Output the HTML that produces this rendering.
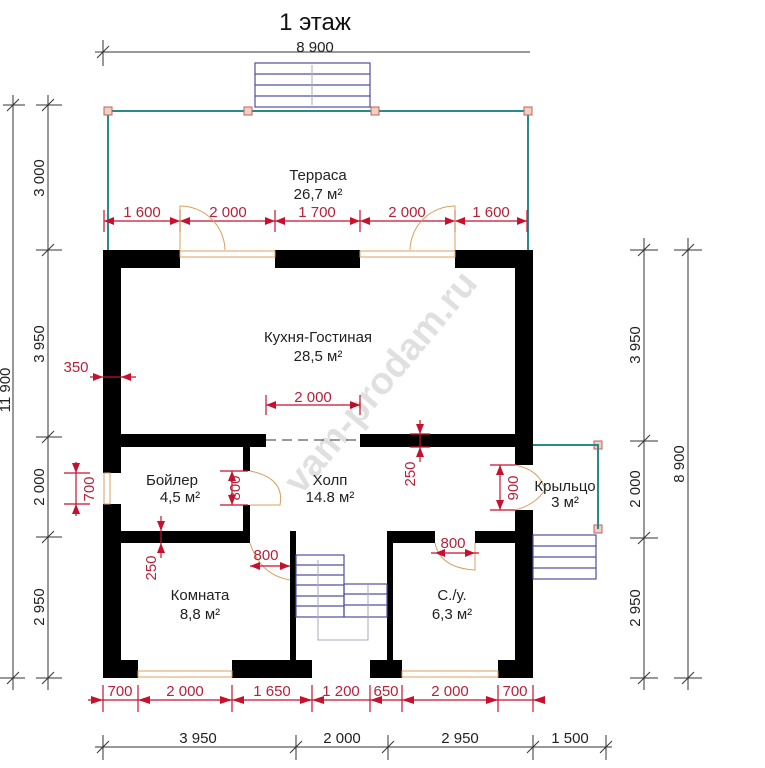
<!DOCTYPE html>
<html><head><meta charset="utf-8"><style>
html,body{margin:0;padding:0;background:#fff;}
svg{display:block;font-family:"Liberation Sans",sans-serif;}
.d{stroke:#333;stroke-width:1;fill:none}
.r{stroke:#c8102e;stroke-width:1.2;fill:none}
.rt{fill:#b5223a;font-size:15px}
.bt{fill:#222;font-size:15px}
.w{fill:#000}
.t{stroke:#2a8a8a;stroke-width:2;fill:none}
.win{fill:#fff;stroke:#d8a060;stroke-width:1}
.st{stroke:#5050a0;stroke-width:1.2;fill:none}
</style></head><body>
<svg width="765" height="768" viewBox="0 0 765 768" xmlns="http://www.w3.org/2000/svg">
<defs>
<marker id="a" markerWidth="8" markerHeight="6" refX="8" refY="3" orient="auto"><path d="M0,0L8,3L0,6z" fill="#c8102e"/></marker>
</defs>
<text x="315" y="30" font-size="24" text-anchor="middle" fill="#111">1 этаж</text>
<text x="315" y="52" class="bt" text-anchor="middle">8 900</text>
<line class="d" x1="95" y1="52" x2="530" y2="52"/>
<line class="d" x1="103" y1="40" x2="103" y2="66"/><line class="d" x1="97" y1="58" x2="109" y2="46"/>
<!-- terrace stairs -->
<rect class="st" x="255" y="63" width="115" height="44"/>
<line class="st" x1="255" y1="74" x2="370" y2="74"/><line class="st" x1="255" y1="85" x2="370" y2="85"/><line class="st" x1="255" y1="96" x2="370" y2="96"/>
<line x1="312" y1="65" x2="312" y2="105" stroke="#aab" stroke-width="1"/>
<!-- terrace -->
<polyline class="t" points="108,250 108,111 528,111 528,250"/>
<g fill="#f0d0c0" stroke="#c06060"><rect x="104" y="107" width="8" height="8"/><rect x="244" y="107" width="8" height="8"/><rect x="371" y="107" width="8" height="8"/><rect x="524" y="107" width="8" height="8"/>
<rect x="594" y="441" width="8" height="8"/><rect x="594" y="525" width="8" height="8"/></g>
<text x="318" y="180" class="bt" text-anchor="middle">Терраса</text>
<text x="318" y="199" class="bt" text-anchor="middle">26,7 м²</text>
<!-- terrace dims -->
<line class="r" x1="104" y1="221" x2="527" y2="221"/>
<g class="r"><line x1="104" y1="210" x2="104" y2="232"/><line x1="180" y1="210" x2="180" y2="232"/><line x1="275" y1="210" x2="275" y2="232"/><line x1="360" y1="210" x2="360" y2="232"/><line x1="455" y1="210" x2="455" y2="232"/><line x1="527" y1="210" x2="527" y2="232"/></g>
<g fill="#c8102e"><path d="M104,221l10,-4v8z"/><path d="M180,221l-10,-4v8z"/><path d="M180,221l10,-4v8z"/><path d="M275,221l-10,-4v8z"/><path d="M275,221l10,-4v8z"/><path d="M360,221l-10,-4v8z"/><path d="M360,221l10,-4v8z"/><path d="M455,221l-10,-4v8z"/><path d="M455,221l10,-4v8z"/><path d="M527,221l-10,-4v8z"/></g>
<g class="rt" text-anchor="middle"><text x="142" y="217">1 600</text><text x="228" y="217">2 000</text><text x="317" y="217">1 700</text><text x="407" y="217">2 000</text><text x="491" y="217">1 600</text></g>
<!-- doors to terrace -->
<path d="M180,250 L180,206 A45,45 0 0 1 225,250" fill="none" stroke="#d8a060"/>
<path d="M455,250 L455,206 A45,45 0 0 0 410,250" fill="none" stroke="#d8a060"/>
<!-- walls -->
<g class="w">
<rect x="103" y="250" width="77" height="18"/><rect x="275" y="250" width="85" height="18"/><rect x="455" y="250" width="78" height="18"/>
<rect x="103" y="250" width="18" height="223"/><rect x="103" y="504" width="18" height="174"/>
<rect x="515" y="250" width="18" height="215"/><rect x="515" y="510" width="18" height="168"/>
<rect x="103" y="660" width="35" height="18"/><rect x="232" y="660" width="80" height="18"/><rect x="370" y="660" width="32" height="18"/><rect x="498" y="660" width="35" height="18"/>
<rect x="121" y="434" width="145" height="13"/><rect x="360" y="434" width="155" height="13"/>
<rect x="243" y="447" width="7" height="24"/><rect x="243" y="505" width="7" height="38"/>
<rect x="121" y="531" width="129" height="12"/>
<rect x="290" y="531" width="6" height="129"/>
<rect x="387" y="531" width="6" height="129"/><rect x="387" y="531" width="48" height="12"/><rect x="475" y="531" width="40" height="12"/>
</g>
<!-- windows -->
<rect class="win" x="180" y="251" width="95" height="6"/><rect class="win" x="360" y="251" width="95" height="6"/>
<rect class="win" x="138" y="671" width="94" height="6"/><rect class="win" x="402" y="671" width="96" height="6"/>
<rect class="win" x="104" y="473" width="6" height="31"/>
<line x1="266" y1="440" x2="360" y2="440" stroke="#333" stroke-dasharray="10,6"/>
<!-- door arcs -->
<path d="M250,471 Q285,478 280,505 L250,505" fill="none" stroke="#d8a060"/>
<path d="M515,465 Q540,470 545,490 Q535,505 515,510" fill="none" stroke="#d8a060"/>
<path d="M250,543 Q260,575 290,580" fill="none" stroke="#d8a060"/>
<path d="M435,543 Q440,568 475,570 L475,543" fill="none" stroke="#d8a060"/>
<!-- inner stairs -->
<g class="st"><rect x="296" y="555" width="48" height="62"/>
<line x1="296" y1="565" x2="344" y2="565"/><line x1="296" y1="575" x2="344" y2="575"/><line x1="296" y1="585" x2="344" y2="585"/><line x1="296" y1="596" x2="344" y2="596"/><line x1="296" y1="606" x2="344" y2="606"/>
<rect x="344" y="584" width="43" height="33"/><line x1="344" y1="594" x2="387" y2="594"/><line x1="344" y1="605" x2="387" y2="605"/></g>
<path d="M318,560 V640 H368 V585" fill="none" stroke="#aab"/>
<!-- porch -->
<polyline class="t" points="533,445 598,445 598,529"/>
<g class="st"><rect x="533" y="535" width="63" height="44"/><line x1="533" y1="546" x2="596" y2="546"/><line x1="533" y1="557" x2="596" y2="557"/><line x1="533" y1="568" x2="596" y2="568"/></g>
<!-- room labels -->
<g class="bt" text-anchor="middle">
<text x="318" y="342">Кухня-Гостиная</text><text x="318" y="361">28,5 м²</text>
<text x="172" y="485">Бойлер</text><text x="180" y="502">4,5 м²</text>
<text x="330" y="485">Холп</text><text x="330" y="502">14.8 м²</text>
<text x="565" y="491">Крыльцо</text><text x="565" y="507">3 м²</text>
<text x="200" y="600">Комната</text><text x="200" y="619">8,8 м²</text>
<text x="452" y="600">С./у.</text><text x="452" y="619">6,3 м²</text>
</g>
<!-- red internal dims -->
<g class="r">
<line x1="266" y1="405" x2="360" y2="405"/><line x1="266" y1="395" x2="266" y2="415"/><line x1="360" y1="395" x2="360" y2="415"/>
<line x1="90" y1="377" x2="136" y2="377"/>
<line x1="420" y1="420" x2="420" y2="462"/><line x1="410" y1="434" x2="430" y2="434"/><line x1="410" y1="447" x2="430" y2="447"/>
<line x1="161" y1="516" x2="161" y2="558"/>
<line x1="76" y1="462" x2="76" y2="516"/><line x1="64" y1="473" x2="90" y2="473"/><line x1="64" y1="504" x2="90" y2="504"/>
<line x1="232" y1="471" x2="232" y2="505"/><line x1="220" y1="471" x2="248" y2="471"/><line x1="220" y1="505" x2="248" y2="505"/>
<line x1="500" y1="465" x2="500" y2="510"/><line x1="490" y1="465" x2="515" y2="465"/><line x1="490" y1="510" x2="515" y2="510"/>
<line x1="250" y1="566" x2="290" y2="566"/>
<line x1="431" y1="553" x2="479" y2="553"/>
</g>
<g fill="#c8102e"><path d="M266,405l10,-4v8z"/><path d="M360,405l-10,-4v8z"/><path d="M103,377l-10,-4v8z"/><path d="M121,377l10,-4v8z"/>
<path d="M420,434l-4,-10h8z"/><path d="M420,447l-4,10h8z"/><path d="M161,531l-4,-10h8z"/><path d="M161,543l-4,10h8z"/>
<path d="M76,473l-4,-10h8z"/><path d="M76,504l-4,10h8z"/><path d="M232,471l-4,10h8z"/><path d="M232,505l-4,-10h8z"/>
<path d="M500,465l-4,10h8z"/><path d="M500,510l-4,-10h8z"/><path d="M250,566l10,-4v8z"/><path d="M290,566l-10,-4v8z"/><path d="M435,553l10,-4v8z"/><path d="M475,553l-10,-4v8z"/></g>
<g class="rt" text-anchor="middle">
<text x="313" y="402">2 000</text><text x="76" y="372">350</text><text x="266" y="560">800</text><text x="453" y="548">800</text>
<text transform="translate(415,474) rotate(-90)">250</text>
<text transform="translate(156,568) rotate(-90)">250</text>
<text transform="translate(94,489) rotate(-90)">700</text>
<text transform="translate(240,488) rotate(-90)">800</text>
<text transform="translate(518,488) rotate(-90)">900</text>
</g>
<!-- bottom red dims -->
<line class="r" x1="88" y1="700" x2="545" y2="700"/>
<g class="r"><line x1="103" y1="685" x2="103" y2="712"/><line x1="138" y1="685" x2="138" y2="712"/><line x1="232" y1="685" x2="232" y2="712"/><line x1="312" y1="685" x2="312" y2="712"/><line x1="370" y1="685" x2="370" y2="712"/><line x1="402" y1="685" x2="402" y2="712"/><line x1="498" y1="685" x2="498" y2="712"/><line x1="533" y1="685" x2="533" y2="712"/></g>
<g fill="#c8102e"><path d="M103,700l-12,-4v8z"/><path d="M138,700l12,-4v8z"/><path d="M232,700l-12,-4v8z"/><path d="M232,700l12,-4v8z"/><path d="M312,700l-12,-4v8z"/><path d="M312,700l12,-4v8z"/><path d="M370,700l12,-4v8z"/><path d="M402,700l12,-4v8z"/><path d="M498,700l-12,-4v8z"/><path d="M533,700l12,-4v8z"/></g>
<g class="rt" text-anchor="middle"><text x="120" y="696">700</text><text x="185" y="696">2 000</text><text x="272" y="696">1 650</text><text x="341" y="696">1 200</text><text x="386" y="696">650</text><text x="450" y="696">2 000</text><text x="515" y="696">700</text></g>
<!-- bottom black dims -->
<line class="d" x1="95" y1="747" x2="612" y2="747"/>
<g class="d"><line x1="103" y1="735" x2="103" y2="760"/><line x1="296" y1="735" x2="296" y2="760"/><line x1="388" y1="735" x2="388" y2="760"/><line x1="533" y1="735" x2="533" y2="760"/><line x1="606" y1="735" x2="606" y2="760"/>
<line x1="97" y1="753" x2="109" y2="741"/><line x1="290" y1="753" x2="302" y2="741"/><line x1="382" y1="753" x2="394" y2="741"/><line x1="527" y1="753" x2="539" y2="741"/><line x1="600" y1="753" x2="612" y2="741"/></g>
<g class="bt" text-anchor="middle"><text x="198" y="743">3 950</text><text x="342" y="743">2 000</text><text x="460" y="743">2 950</text><text x="570" y="743">1 500</text></g>
<!-- left dims -->
<line class="d" x1="13" y1="95" x2="13" y2="690"/>
<line class="d" x1="48" y1="95" x2="48" y2="690"/>
<g class="d"><line x1="3" y1="105" x2="25" y2="105"/><line x1="7" y1="111" x2="19" y2="99"/>
<line x1="36" y1="105" x2="62" y2="105"/><line x1="42" y1="111" x2="54" y2="99"/>
<line x1="36" y1="250" x2="62" y2="250"/><line x1="42" y1="256" x2="54" y2="244"/>
<line x1="36" y1="437" x2="62" y2="437"/><line x1="42" y1="443" x2="54" y2="431"/>
<line x1="36" y1="537" x2="62" y2="537"/><line x1="42" y1="543" x2="54" y2="531"/>
<line x1="36" y1="678" x2="62" y2="678"/><line x1="42" y1="684" x2="54" y2="672"/>
<line x1="0" y1="678" x2="25" y2="678"/><line x1="7" y1="684" x2="19" y2="672"/></g>
<g class="bt" text-anchor="middle">
<text transform="translate(44,178) rotate(-90)">3 000</text>
<text transform="translate(44,344) rotate(-90)">3 950</text>
<text transform="translate(44,487) rotate(-90)">2 000</text>
<text transform="translate(44,607) rotate(-90)">2 950</text>
<text transform="translate(10,390) rotate(-90)">11 900</text>
</g>
<!-- right dims -->
<line class="d" x1="644" y1="238" x2="644" y2="690"/>
<line class="d" x1="688" y1="238" x2="688" y2="690"/>
<g class="d"><line x1="630" y1="250" x2="658" y2="250"/><line x1="638" y1="256" x2="650" y2="244"/>
<line x1="674" y1="250" x2="702" y2="250"/><line x1="682" y1="256" x2="694" y2="244"/>
<line x1="630" y1="441" x2="658" y2="441"/><line x1="638" y1="447" x2="650" y2="435"/>
<line x1="630" y1="538" x2="658" y2="538"/><line x1="638" y1="544" x2="650" y2="532"/>
<line x1="630" y1="678" x2="658" y2="678"/><line x1="638" y1="684" x2="650" y2="672"/>
<line x1="674" y1="678" x2="702" y2="678"/><line x1="682" y1="684" x2="694" y2="672"/></g>
<g class="bt" text-anchor="middle">
<text transform="translate(640,345) rotate(-90)">3 950</text>
<text transform="translate(640,489) rotate(-90)">2 000</text>
<text transform="translate(640,608) rotate(-90)">2 950</text>
<text transform="translate(684,464) rotate(-90)">8 900</text>
</g>
<!-- watermark -->
<text transform="translate(390,390) rotate(-50)" font-size="38" fill="#000" fill-opacity="0.12" text-anchor="middle" font-weight="bold">vam-prodam.ru</text>
</svg>
</body></html>
